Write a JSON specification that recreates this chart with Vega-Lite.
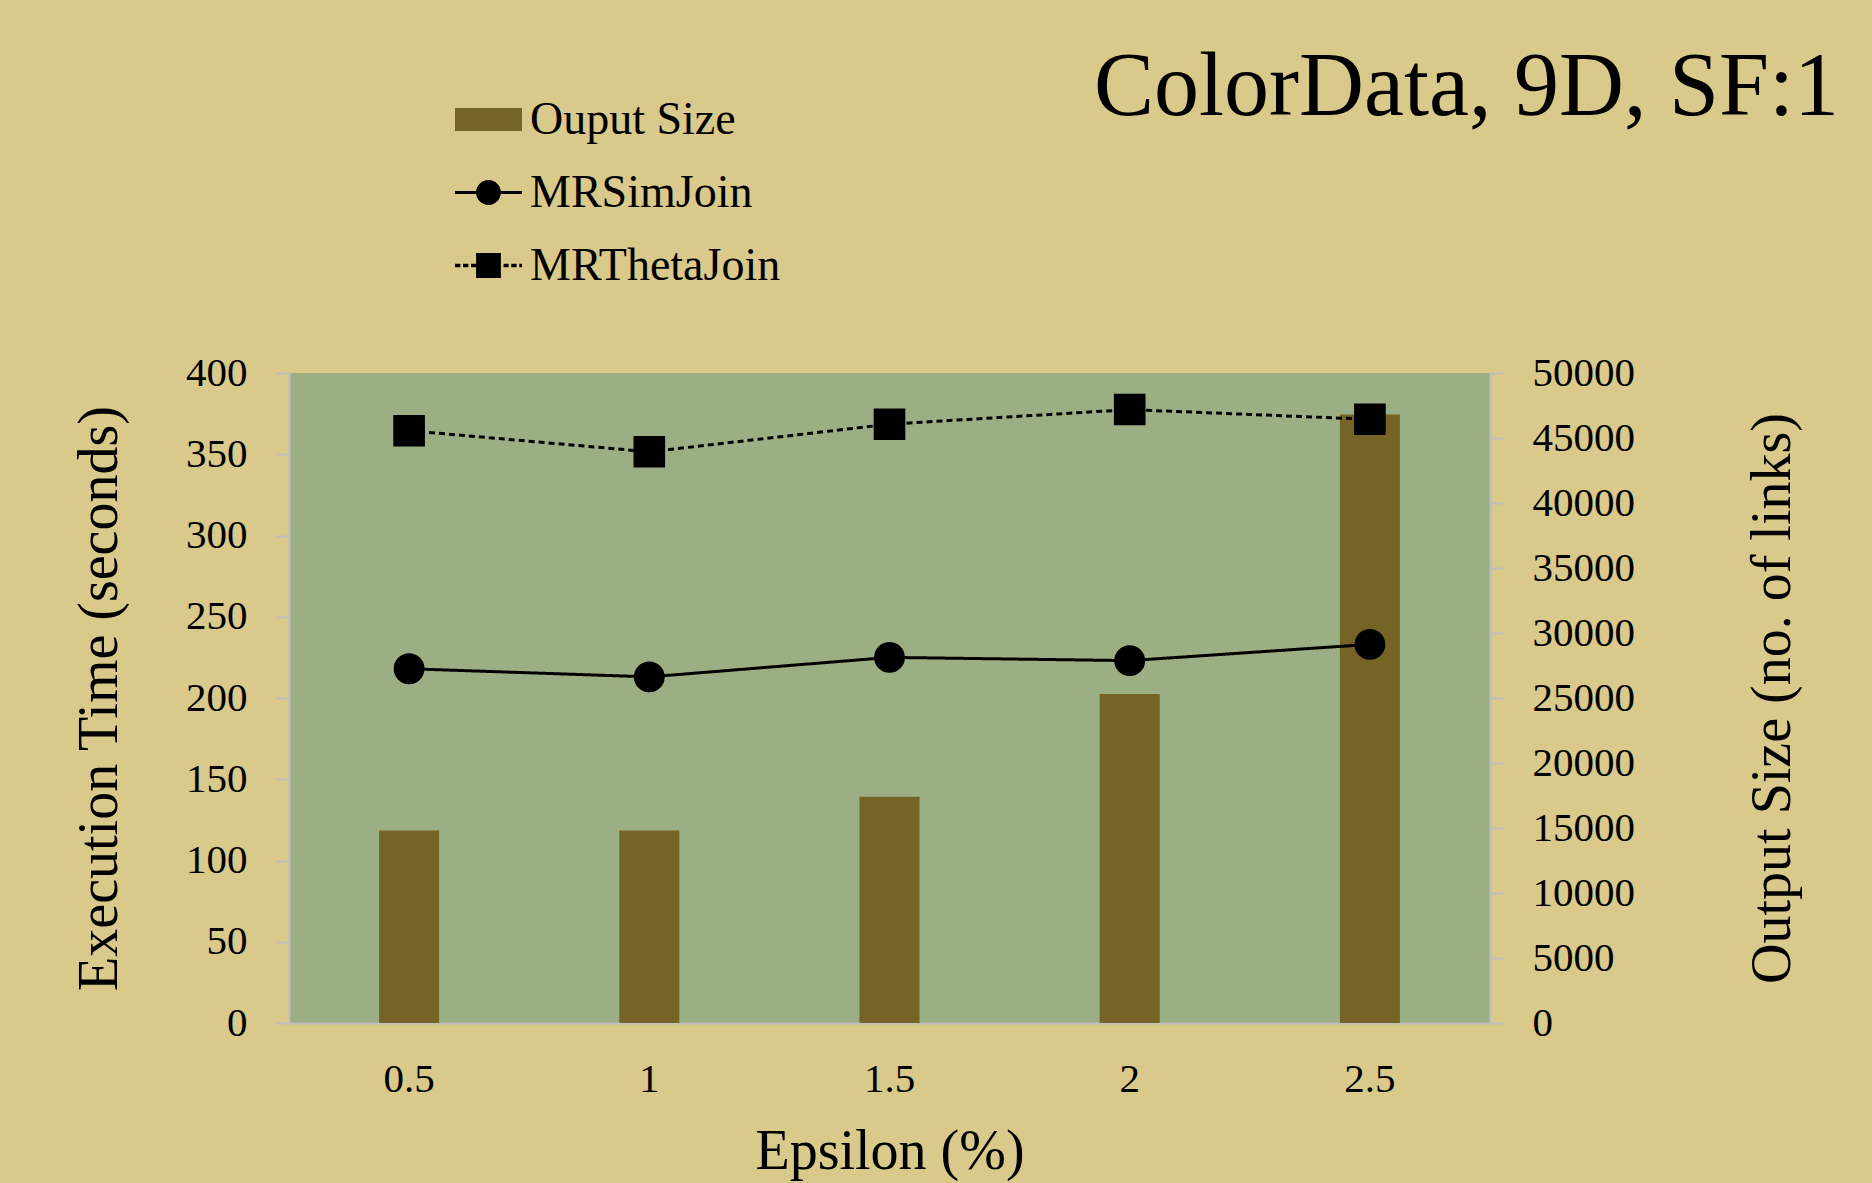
{
  "$schema": "https://vega.github.io/schema/vega-lite/v6.json",
  "autosize": {"type": "none"},
  "width": 1201,
  "height": 650,
  "padding": {"left": 289, "top": 373, "right": 382, "bottom": 160},
  "background": "#d9c98a",
  "config": {
    "font": "Liberation Serif",
    "view": {"fill": "#9caf84", "stroke": null},
    "axis": {
      "grid": false,
      "domainColor": "#bfbfbf",
      "domainWidth": 2,
      "tickColor": "#bfbfbf",
      "tickWidth": 2,
      "tickSize": 14,
      "labelFont": "Liberation Serif",
      "labelFontSize": 41,
      "labelColor": "#000000",
      "titleFont": "Liberation Serif",
      "titleFontSize": 56,
      "titleFontWeight": "normal",
      "titleColor": "#000000",
      "labelOverlap": false,
      "labelFlush": false
    }
  },
  "title": {
    "text": "ColorData, 9D, SF:1",
    "anchor": "end",
    "frame": "group",
    "orient": "top",
    "font": "Liberation Serif",
    "fontSize": 90,
    "fontWeight": "normal",
    "color": "#000000",
    "dx": 349,
    "dy": 48,
    "offset": 0
  },
  "datasets": {
    "sizes": [
      {"eps": "0.5", "output": 14800},
      {"eps": "1", "output": 14800},
      {"eps": "1.5", "output": 17400},
      {"eps": "2", "output": 25300},
      {"eps": "2.5", "output": 46800}
    ],
    "times": [
      {"eps": "0.5", "series": "MRSimJoin", "time": 218},
      {"eps": "1", "series": "MRSimJoin", "time": 213},
      {"eps": "1.5", "series": "MRSimJoin", "time": 225},
      {"eps": "2", "series": "MRSimJoin", "time": 223},
      {"eps": "2.5", "series": "MRSimJoin", "time": 233},
      {"eps": "0.5", "series": "MRThetaJoin", "time": 364.5},
      {"eps": "1", "series": "MRThetaJoin", "time": 351.5},
      {"eps": "1.5", "series": "MRThetaJoin", "time": 368.5},
      {"eps": "2", "series": "MRThetaJoin", "time": 377.5},
      {"eps": "2.5", "series": "MRThetaJoin", "time": 371.5}
    ]
  },
  "encoding": {
    "x": {
      "field": "eps",
      "type": "ordinal",
      "sort": ["0.5", "1", "1.5", "2", "2.5"],
      "scale": {"type": "band", "paddingInner": 0.75, "paddingOuter": 0.375},
      "axis": {
        "title": "Epsilon (%)",
        "ticks": false,
        "tickSize": 0,
        "labelAngle": 0,
        "labelPadding": 36,
        "titlePadding": 25
      }
    }
  },
  "layer": [
    {
      "data": {"name": "sizes"},
      "mark": {"type": "bar", "color": "#756425"},
      "encoding": {
        "y": {
          "field": "output",
          "type": "quantitative",
          "scale": {"domain": [0, 50000], "nice": false},
          "axis": {
            "orient": "right",
            "title": "Output Size (no. of links)",
            "values": [0, 5000, 10000, 15000, 20000, 25000, 30000, 35000, 40000, 45000, 50000],
            "format": "d",
            "labelPadding": 28,
            "titleAngle": -90,
            "titleBaseline": "top",
            "titlePadding": 111
          }
        }
      }
    },
    {
      "data": {"name": "times"},
      "encoding": {
        "y": {
          "field": "time",
          "type": "quantitative",
          "scale": {"domain": [0, 400], "nice": false},
          "axis": {
            "orient": "left",
            "title": "Execution Time (seconds)",
            "values": [0, 50, 100, 150, 200, 250, 300, 350, 400],
            "format": "d",
            "labelPadding": 28,
            "titlePadding": 57
          }
        }
      },
      "layer": [
        {
          "mark": {"type": "line", "color": "#000000", "strokeWidth": 3},
          "encoding": {
            "strokeDash": {
              "field": "series",
              "type": "nominal",
              "scale": {"domain": ["MRSimJoin", "MRThetaJoin"], "range": [[1, 0], [6, 4]]},
              "legend": null
            }
          }
        },
        {
          "transform": [{"filter": "datum.series === 'MRSimJoin'"}],
          "mark": {"type": "point", "shape": "circle", "filled": true, "color": "#000000", "opacity": 1, "size": 950}
        },
        {
          "transform": [{"filter": "datum.series === 'MRThetaJoin'"}],
          "mark": {"type": "point", "shape": "square", "filled": true, "color": "#000000", "opacity": 1, "size": 1000}
        }
      ]
    },
    {
      "data": {"name": "times"},
      "transform": [{"filter": "false"}],
      "mark": {"type": "point", "filled": true, "opacity": 1},
      "encoding": {
        "color": {
          "field": "series",
          "type": "nominal",
          "scale": {"domain": ["Ouput Size", "MRSimJoin", "MRThetaJoin"], "range": ["#756425", "#000000", "#000000"]},
          "legend": {
            "orient": "none",
            "legendX": 166,
            "legendY": -287,
            "title": null,
            "symbolSize": 4489,
            "labelFontSize": 46,
            "labelFont": "Liberation Serif",
            "labelColor": "#000000",
            "labelOffset": 8,
            "labelLimit": 600,
            "rowPadding": 16,
            "symbolStrokeWidth": 0
          }
        },
        "shape": {
          "field": "series",
          "type": "nominal",
          "scale": {
            "domain": ["Ouput Size", "MRSimJoin", "MRThetaJoin"],
            "range": [
              "M-1,-0.34H1V0.34H-1Z",
              "M-1,-0.045H1V0.045H-1Z M-0.37,0 A0.37,0.37 0 1,1 0.37,0 A0.37,0.37 0 1,1 -0.37,0 Z",
              "M-1,-0.05H-0.84V0.05H-1Z M-0.76,-0.05H-0.6V0.05H-0.76Z M-0.52,-0.05H-0.37V0.05H-0.52Z M-0.37,-0.37H0.37V0.37H-0.37Z M0.45,-0.05H0.6V0.05H0.45Z M0.68,-0.05H0.84V0.05H0.68Z M0.92,-0.05H1V0.05H0.92Z"
            ]
          },
          "legend": {
            "orient": "none",
            "legendX": 166,
            "legendY": -287,
            "title": null,
            "symbolSize": 4489,
            "labelFontSize": 46,
            "labelFont": "Liberation Serif",
            "labelColor": "#000000",
            "labelOffset": 8,
            "labelLimit": 600,
            "rowPadding": 16,
            "symbolStrokeWidth": 0
          }
        }
      }
    }
  ],
  "resolve": {"scale": {"y": "independent"}}
}
